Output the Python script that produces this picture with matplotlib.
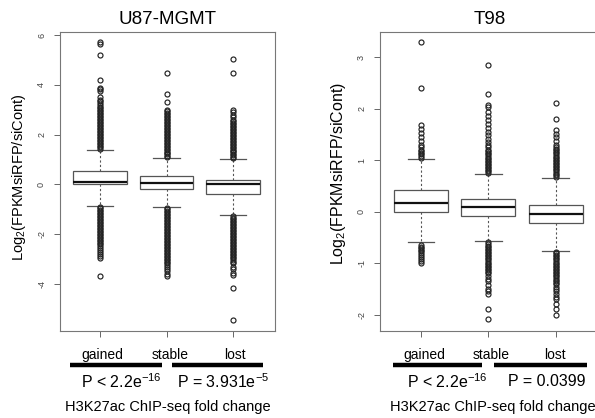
"""
plot.py

Two box-plot panels (U87-MGMT and T98): log2 expression change split by
H3K27ac ChIP-seq fold change group (gained / stable / lost).
"""

import matplotlib
matplotlib.use("Agg")
import matplotlib.pyplot as plt
from matplotlib.lines import Line2D

plt.rcParams["font.family"] = ["Liberation Sans", "DejaVu Sans"]
plt.rcParams["mathtext.default"] = "regular"

W, H = 595, 418

# --- data --------------------------------------------------------------
groups = ["gained", "stable", "lost"]

# U87-MGMT box statistics
u87_med = [0.08, 0.04, 0.0]
u87_q1 = [0.0, -0.19, -0.39]
u87_q3 = [0.55, 0.33, 0.17]
u87_whislo = [-0.86, -0.9, -1.23]
u87_whishi = [1.4, 1.04, 1.0]

u87_gained_fliers = [
    1.44, 1.5, 1.56, 1.62, 1.68, 1.74, 1.8, 1.86, 1.92, 1.98, 2.04, 2.1,
    2.16, 2.22, 2.28, 2.34, 2.4, 2.46, 2.52, 2.58, 2.64, 2.7, 2.76, 2.82,
    2.88, 2.94, 3.0, 3.05, 3.12, 3.2, 3.28, 3.34, 3.4, 3.5, 3.75, 3.82,
    3.88, 4.2, 5.2, 5.62, 5.72,
    -0.9, -0.96, -1.02, -1.08, -1.14, -1.2, -1.26, -1.32, -1.38, -1.44,
    -1.5, -1.56, -1.62, -1.68, -1.74, -1.8, -1.86, -1.92, -1.98, -2.04,
    -2.1, -2.16, -2.22, -2.28, -2.34, -2.4, -2.46, -2.55, -2.62, -2.7,
    -2.8, -2.88, -2.95, -3.7,
]
u87_stable_fliers = [
    1.08, 1.14, 1.2, 1.26, 1.32, 1.38, 1.44, 1.5, 1.56, 1.62, 1.68, 1.74,
    1.8, 1.86, 1.92, 1.98, 2.04, 2.1, 2.16, 2.22, 2.28, 2.34, 2.4, 2.46,
    2.52, 2.58, 2.64, 2.7, 2.76, 2.82, 2.88, 2.94, 3.0, 3.3, 3.62, 4.48,
    -0.94, -1.0, -1.06, -1.12, -1.18, -1.24, -1.3, -1.36, -1.42, -1.48,
    -1.54, -1.6, -1.66, -1.72, -1.78, -1.84, -1.9, -1.96, -2.02, -2.08,
    -2.14, -2.2, -2.26, -2.32, -2.38, -2.44, -2.5, -2.56, -2.62, -2.68,
    -2.74, -2.8, -2.86, -2.92, -2.98, -3.04, -3.1, -3.16, -3.22, -3.3,
    -3.4, -3.5, -3.6, -3.68,
]
u87_lost_fliers = [
    1.04, 1.1, 1.16, 1.22, 1.28, 1.34, 1.4, 1.46, 1.52, 1.58, 1.64, 1.7,
    1.76, 1.82, 1.88, 1.94, 2.0, 2.06, 2.12, 2.18, 2.24, 2.3, 2.36, 2.42,
    2.48, 2.54, 2.6, 2.7, 2.8, 2.9, 3.0, 4.48, 5.02,
    -1.28, -1.34, -1.4, -1.46, -1.52, -1.58, -1.64, -1.7, -1.76, -1.82,
    -1.88, -1.94, -2.0, -2.06, -2.12, -2.18, -2.24, -2.3, -2.36, -2.42,
    -2.48, -2.54, -2.6, -2.66, -2.72, -2.78, -2.84, -2.9, -2.96, -3.02,
    -3.1, -3.17, -3.3, -3.4, -3.57, -3.64, -4.15, -5.44,
]

# T98 box statistics
t98_med = [0.16, 0.09, -0.045]
t98_q1 = [0.0, -0.08, -0.23]
t98_q3 = [0.42, 0.24, 0.13]
t98_whislo = [-0.6, -0.57, -0.76]
t98_whishi = [1.02, 0.73, 0.66]

t98_gained_fliers = [
    1.05, 1.08, 1.11, 1.14, 1.17, 1.2, 1.25, 1.3, 1.38, 1.45, 1.52, 1.6,
    1.69, 2.41, 3.3,
    -0.65, -0.68, -0.71, -0.74, -0.77, -0.8, -0.84, -0.88, -0.92, -0.96,
    -0.99,
]
t98_stable_fliers = [
    0.75, 0.78, 0.81, 0.84, 0.87, 0.9, 0.93, 0.96, 0.99, 1.02, 1.05, 1.08,
    1.11, 1.14, 1.17, 1.2, 1.25, 1.3, 1.35, 1.42, 1.48, 1.55, 1.62, 1.7,
    1.78, 1.86, 1.94, 2.03, 2.07, 2.29, 2.84,
    -0.6, -0.63, -0.66, -0.69, -0.72, -0.75, -0.78, -0.81, -0.84, -0.87,
    -0.9, -0.93, -0.96, -0.99, -1.02, -1.05, -1.08, -1.11, -1.14, -1.17,
    -1.2, -1.25, -1.3, -1.35, -1.42, -1.5, -1.55, -1.61, -1.9, -2.09,
]
t98_lost_fliers = [
    0.68, 0.71, 0.74, 0.77, 0.8, 0.83, 0.86, 0.89, 0.92, 0.95, 0.98, 1.01,
    1.04, 1.07, 1.1, 1.13, 1.16, 1.19, 1.22, 1.25, 1.3, 1.38, 1.45, 1.5,
    1.58, 1.8, 2.11,
    -0.78, -0.81, -0.84, -0.87, -0.9, -0.93, -0.96, -0.99, -1.02, -1.05,
    -1.08, -1.11, -1.14, -1.17, -1.2, -1.23, -1.26, -1.29, -1.32, -1.35,
    -1.38, -1.41, -1.46, -1.5, -1.55, -1.6, -1.66, -1.7, -1.8, -1.9, -2.0,
]

u87_ticks = [-4, -2, 0, 2, 4, 6]
t98_ticks = [-2, -1, 0, 1, 2, 3]
u87_pvals = ["P < 2.2e$^{-16}$", "P = 3.931e$^{-5}$"]
t98_pvals = ["P < 2.2e$^{-16}$", "P = 0.0399"]
ylabel = "Log$_2$(FPKMsiRFP/siCont)"
xlabel = "H3K27ac ChIP-seq fold change"


def px(x, y):
    """Pixel position (from top-left) -> figure fraction."""
    return x / W, 1 - y / H


def build_stats(med, q1, q3, lo, hi, fliers):
    return [
        {"label": g, "med": med[i], "q1": q1[i], "q3": q3[i],
         "whislo": lo[i], "whishi": hi[i], "fliers": fliers[i]}
        for i, g in enumerate(groups)
    ]


def draw_panel(ax, stats, ticks, title, xlim, ylim):
    ax.bxp(
        stats, positions=[1, 2, 3], widths=0.8, patch_artist=True,
        boxprops=dict(facecolor="white", edgecolor="#555555", linewidth=0.9),
        medianprops=dict(color="#111111", linewidth=1.6),
        whiskerprops=dict(color="#555555", linewidth=0.8, linestyle=(0, (2, 2))),
        capprops=dict(color="#555555", linewidth=0.9),
        flierprops=dict(marker="o", markersize=3.6, markerfacecolor="none",
                        markeredgecolor="#222222", markeredgewidth=0.85),
        capwidths=0.4,
    )
    ax.set_xlim(*xlim)
    ax.set_ylim(*ylim)
    ax.set_yticks(ticks)
    ax.set_yticklabels([str(t) for t in ticks], rotation=90, va="center",
                       fontsize=6.5, color="#444444")
    ax.set_xticks([1, 2, 3])
    ax.set_xticklabels([])
    ax.tick_params(length=4, width=0.7, color="#666666", pad=6)
    for sp in ax.spines.values():
        sp.set_color("#777777")
        sp.set_linewidth(0.8)
    ax.set_title(title, fontsize=13.5, pad=6)


def annotate_panel(fig, label_x, y_label_pos, y_label_size, bars, pvals, p_x, xlab_x):
    for g, x in zip(groups, label_x):
        fig.text(*px(x, 355), g, ha="center", va="center", fontsize=10)
    for (x0, x1) in bars:
        a, b = px(x0, 365), px(x1, 365)
        fig.add_artist(Line2D([a[0], b[0]], [a[1], b[1]], color="black",
                              linewidth=3.2, solid_capstyle="butt"))
    for txt, x in zip(pvals, p_x):
        fig.text(*px(x, 382), txt, ha="center", va="center", fontsize=11.5)
    fig.text(*px(xlab_x, 407), xlabel, ha="center", va="center", fontsize=10.5)
    fig.text(*px(*y_label_pos), ylabel, rotation=90, ha="center", va="center",
             fontsize=y_label_size)


def main():
    fig = plt.figure(figsize=(W / 100, H / 100), dpi=100)

    ax1 = fig.add_axes([60 / W, 1 - 331 / H, 215 / W, 299 / H])
    ax2 = fig.add_axes([380 / W, 1 - 331 / H, 220 / W, 299 / H])

    u87_stats = build_stats(u87_med, u87_q1, u87_q3, u87_whislo, u87_whishi,
                            [u87_gained_fliers, u87_stable_fliers, u87_lost_fliers])
    t98_stats = build_stats(t98_med, t98_q1, t98_q3, t98_whislo, t98_whishi,
                            [t98_gained_fliers, t98_stable_fliers, t98_lost_fliers])

    draw_panel(ax1, u87_stats, u87_ticks, "U87-MGMT", (0.398, 3.63), (-5.89, 6.12))
    draw_panel(ax2, t98_stats, t98_ticks, "T98", (0.391, 3.66), (-2.32, 3.49))

    annotate_panel(fig, [102, 170, 235], (19, 177), 10.5,
                   [(70, 162), (172, 263)], u87_pvals, [121, 223], 168)
    annotate_panel(fig, [424, 491, 555], (338, 173), 11.5,
                   [(393, 482), (494, 587)], t98_pvals, [447, 547], 493)

    fig.savefig("out.png", dpi=100)


if __name__ == "__main__":
    main()
